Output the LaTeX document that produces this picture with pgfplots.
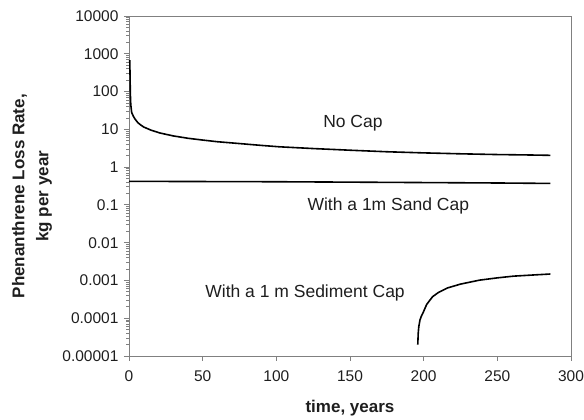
\documentclass[border=0pt]{standalone}
\usepackage{pgfplots}
\pgfplotsset{compat=1.18}
\usepackage{fontspec}
\setmainfont{Liberation Sans}

% Phenanthrene loss rate through the sediment surface
\pgfplotstableread{
t      rate
0.5    680
0.7    300
0.9    90
1.2    45
1.8    28
3      22
4      19
6      15
8      13
10     11.5
15     9.5
21     8
30     6.7
40     5.8
50     5.2
60     4.7
75     4.2
90     3.75
102    3.45
125    3.1
150    2.8
175    2.55
200    2.38
225    2.25
250    2.15
270    2.1
286    2.05
}\nocap

\pgfplotstableread{
t      rate
0      0.42
50     0.415
100    0.41
150    0.40
200    0.39
250    0.38
286    0.37
}\sandcap

\pgfplotstableread{
t      rate
196    2e-5
196.3  4e-5
196.7  6e-5
197.5  9e-5
198.5  1.15e-4
199.6  1.4e-4
202    2.3e-4
206    3.7e-4
210    4.8e-4
216    6.3e-4
225    8e-4
238    1.02e-3
250    1.17e-3
261    1.3e-3
275    1.4e-3
286    1.48e-3
}\sedcap

\definecolor{framegray}{RGB}{128,128,128}
\definecolor{txt}{RGB}{30,30,30}

\begin{document}
\begin{tikzpicture}
\path[use as bounding box] (0,0) rectangle (584pt,420pt);
\begin{axis}[
  at={(129pt,64pt)}, anchor=south west,
  scale only axis, width=442pt, height=340pt,
  ymode=log,
  xmin=0, xmax=300, ymin=1e-5, ymax=1e4,
  xtick={0,50,100,150,200,250,300},
  ytick={1e-5,1e-4,1e-3,1e-2,1e-1,1,10,100,1000,10000},
  yticklabels={0.00001,0.0001,0.001,0.01,0.1,1,10,100,1000,10000},
  minor ytick={},
  xtick pos=bottom, ytick pos=left,
  tick align=outside, major tick length=5pt,
  tick style={framegray, line width=0.8pt},
  axis line style={framegray, line width=0.9pt},
  /pgf/number format/assume math mode=true,
  ticklabel style={font=\fontsize{15.5}{18}\selectfont, text=txt},
  yticklabel style={xshift=-2pt},
  xticklabel style={yshift=-6pt},
  xlabel={time, years},
  ylabel={Phenanthrene Loss Rate,\\kg per year},
  label style={font=\fontsize{17}{24}\selectfont\bfseries, text=txt},
  xlabel style={at={(axis description cs:0.5,-0.153)}, anchor=center},
  ylabel style={at={(axis description cs:-0.2195,0.47)}, anchor=center, align=center},
  every axis plot/.append style={black, line width=1.6pt},
  clip=false,
]
\addplot[mark=none] table[x=t, y=rate] {\nocap};
\addplot[mark=none] table[x=t, y=rate] {\sandcap};
\addplot[mark=none] table[x=t, y=rate] {\sedcap};

\node[font=\fontsize{17.5}{20}\selectfont, text=txt] at (axis cs:152,14.6) {No Cap};
\node[font=\fontsize{17.5}{20}\selectfont, text=txt] at (axis cs:176,0.093) {With a 1m Sand Cap};
\node[font=\fontsize{17.5}{20}\selectfont, text=txt] at (axis cs:119.5,4.6e-4) {With a 1 m Sediment Cap};
\end{axis}
\end{tikzpicture}
\end{document}
